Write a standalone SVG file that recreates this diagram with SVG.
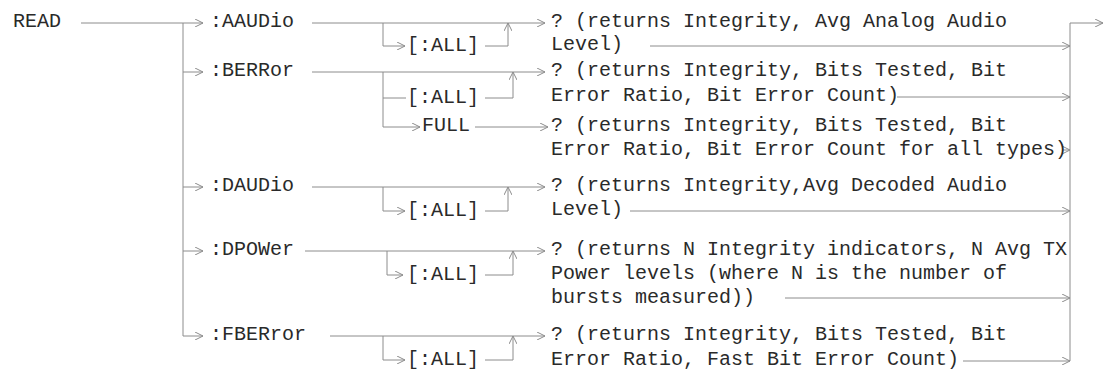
<svg xmlns="http://www.w3.org/2000/svg" width="1106" height="375" viewBox="0 0 1106 375">
<style>
text{font-family:"Liberation Mono","Courier New",monospace;font-size:20px;fill:#2a2a2a}
.c{fill:none;stroke:#8c8c8c;stroke-width:1}
</style>
<defs>
<marker id="arr" viewBox="0 0 8 8" refX="8" refY="4" markerWidth="8" markerHeight="8" markerUnits="userSpaceOnUse" orient="auto">
<path d="M0,0 L8,4 L0,8" fill="none" stroke="#8c8c8c" stroke-width="1"/>
</marker>
</defs>
<rect width="1106" height="375" fill="#fff"/>
<g id="connectors" class="c">
<path class="c" d="M81,23 H203" marker-end="url(#arr)"/>
<path class="c" d="M183,23 V336 H203" marker-end="url(#arr)"/>
<path class="c" d="M183,72 H203" marker-end="url(#arr)"/>
<path class="c" d="M183,187 H203" marker-end="url(#arr)"/>
<path class="c" d="M183,251 H203" marker-end="url(#arr)"/>
<path class="c" d="M312,23 H545" marker-end="url(#arr)"/>
<path class="c" d="M383,23 V46 H405" marker-end="url(#arr)"/>
<path class="c" d="M485,46 H508 V23" marker-end="url(#arr)"/>
<path class="c" d="M650,46 H1070" marker-end="url(#arr)"/>
<path class="c" d="M312,72 H545" marker-end="url(#arr)"/>
<path class="c" d="M383,72 V127 H420" marker-end="url(#arr)"/>
<path class="c" d="M383,98 H406"/>
<path class="c" d="M485,98 H513 V72" marker-end="url(#arr)"/>
<path class="c" d="M897,97 H1070" marker-end="url(#arr)"/>
<path class="c" d="M475,127 H548" marker-end="url(#arr)"/>
<path class="c" d="M1062,150 H1070" marker-end="url(#arr)"/>
<path class="c" d="M312,187 H545" marker-end="url(#arr)"/>
<path class="c" d="M383,187 V211 H405" marker-end="url(#arr)"/>
<path class="c" d="M485,211 H508 V187" marker-end="url(#arr)"/>
<path class="c" d="M630,211 H1070" marker-end="url(#arr)"/>
<path class="c" d="M305,251 H545" marker-end="url(#arr)"/>
<path class="c" d="M387,251 V275 H403" marker-end="url(#arr)"/>
<path class="c" d="M485,275 H513 V251" marker-end="url(#arr)"/>
<path class="c" d="M785,298 H1070" marker-end="url(#arr)"/>
<path class="c" d="M330,336 H545" marker-end="url(#arr)"/>
<path class="c" d="M383,336 V360 H405" marker-end="url(#arr)"/>
<path class="c" d="M485,360 H513 V336" marker-end="url(#arr)"/>
<path class="c" d="M963,361 H1070" marker-end="url(#arr)"/>
<path class="c" d="M1070,361 V23 H1103" marker-end="url(#arr)"/>
</g>
<g id="read"><text x="13" y="27">READ</text></g>
<g id="aaudio"><text x="210" y="27">:AAUDio</text></g>
<g id="aaudio-all"><text x="407" y="51">[:ALL]</text></g>
<g id="aaudio-ret"><text x="551" y="27">? (returns Integrity, Avg Analog Audio</text><text x="551" y="50">Level)</text></g>
<g id="berror"><text x="210" y="76">:BERRor</text></g>
<g id="berror-all"><text x="407" y="103">[:ALL]</text></g>
<g id="berror-ret"><text x="551" y="76">? (returns Integrity, Bits Tested, Bit</text><text x="551" y="101">Error Ratio, Bit Error Count)</text></g>
<g id="full"><text x="422" y="131">FULL</text></g>
<g id="full-ret"><text x="551" y="131">? (returns Integrity, Bits Tested, Bit</text><text x="551" y="155">Error Ratio, Bit Error Count for all types)</text></g>
<g id="daudio"><text x="210" y="191">:DAUDio</text></g>
<g id="daudio-all"><text x="407" y="216">[:ALL]</text></g>
<g id="daudio-ret"><text x="551" y="191">? (returns Integrity,Avg Decoded Audio</text><text x="551" y="215">Level)</text></g>
<g id="dpower"><text x="210" y="255">:DPOWer</text></g>
<g id="dpower-all"><text x="407" y="280">[:ALL]</text></g>
<g id="dpower-ret"><text x="551" y="255">? (returns N Integrity indicators, N Avg TX</text><text x="551" y="279">Power levels (where N is the number of</text><text x="551" y="303">bursts measured))</text></g>
<g id="fberror"><text x="210" y="340">:FBERror</text></g>
<g id="fberror-all"><text x="407" y="365">[:ALL]</text></g>
<g id="fberror-ret"><text x="551" y="340">? (returns Integrity, Bits Tested, Bit</text><text x="551" y="365">Error Ratio, Fast Bit Error Count)</text></g>
</svg>
